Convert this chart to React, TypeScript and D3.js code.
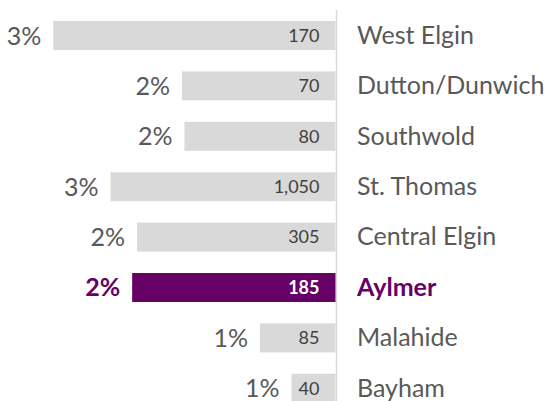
import React from "react";
import * as d3 from "d3";

const categories = ["West Elgin", "Dutton/Dunwich", "Southwold", "St. Thomas", "Central Elgin", "Aylmer", "Malahide", "Bayham"];
const shares = [3.4, 1.85, 1.82, 2.71, 2.39, 2.45, 0.91, 0.53];
const shareLabels = ["3%", "2%", "2%", "3%", "2%", "2%", "1%", "1%"];
const counts = [170, 70, 80, 1050, 305, 185, 85, 40];
const highlight = "Aylmer";

const W = 547;
const H = 401;
const AXIS_X = 335.5;
const FONT = "Lato, 'Open Sans', sans-serif";

export default function App() {
  const x = d3.scaleLinear().domain([0, 4]).range([AXIS_X, AXIS_X - 332]);
  const y = d3.scaleBand<string>().domain(categories).range([-0.4, 424.2]).paddingInner(0.425).paddingOuter(0.425);
  const fmt = d3.format(",");
  const bw = y.bandwidth();

  return (
    <svg width={W} height={H} style={{ position: "absolute", left: 0, top: 0, background: "#fff" }}>
      <line x1={AXIS_X + 1} x2={AXIS_X + 1} y1={10} y2={H} stroke="#d9d9d9" strokeWidth={1.5} />
      {categories.map((c, i) => {
        const hi = c === highlight;
        const yc = (y(c) as number) + bw / 2;
        const x0 = x(shares[i]);
        const fill = hi ? "#660066" : "#d9d9d9";
        return (
          <g key={c}>
            <rect x={x0} y={y(c)} width={AXIS_X - x0} height={bw} fill={fill} />
            <text
              x={AXIS_X - 16}
              y={yc}
              dy="0.35em"
              textAnchor="end"
              fontFamily={FONT}
              fontSize={18}
              fontWeight={hi ? 700 : 400}
              fill={hi ? "#ffffff" : "#404040"}
            >
              {fmt(counts[i])}
            </text>
            <text
              x={x0 - 12}
              y={yc}
              dy="0.36em"
              textAnchor="end"
              fontFamily={FONT}
              fontSize={25}
              fontWeight={hi ? 700 : 400}
              fill={hi ? "#660066" : "#595959"}
            >
              {shareLabels[i]}
            </text>
            <text
              x={357}
              y={yc}
              dy="0.33em"
              textAnchor="start"
              fontFamily={FONT}
              fontSize={25}
              fontWeight={hi ? 700 : 400}
              fill={hi ? "#660066" : "#595959"}
            >
              {c}
            </text>
          </g>
        );
      })}
    </svg>
  );
}
